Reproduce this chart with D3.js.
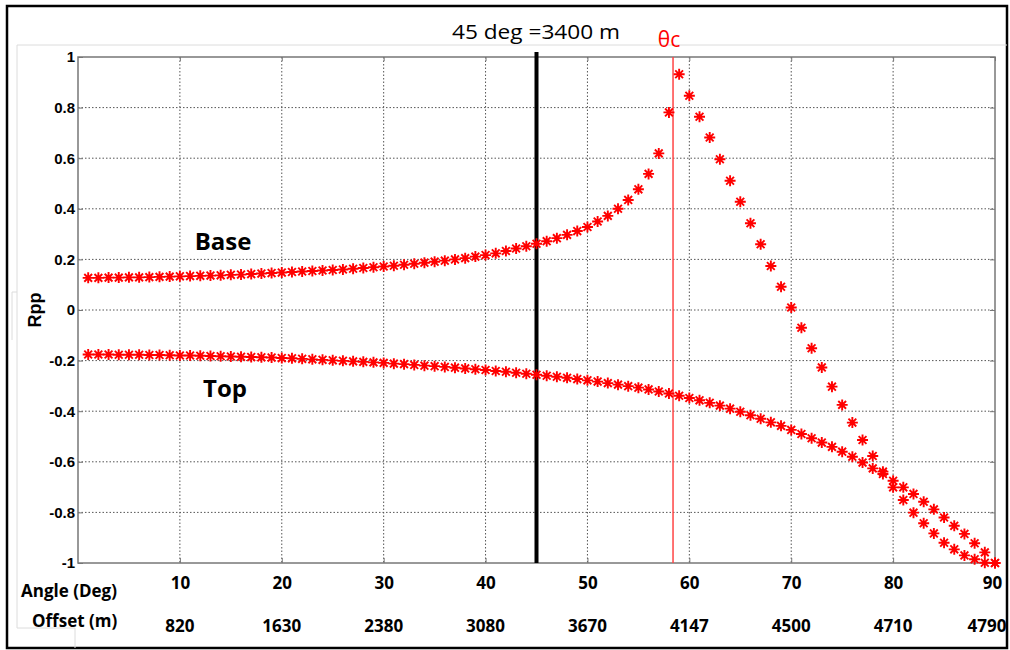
<!DOCTYPE html>
<html>
<head>
<meta charset="utf-8">
<script src="https://cdn.jsdelivr.net/npm/d3@7"></script>
<style>
  body { margin: 0; background: #fff; }
  svg { display: block; }
</style>
</head>
<body>
<svg id="chart" width="1010" height="650"></svg>
<script>
// Incidence angles (deg) for every computed sample
const angles = d3.range(1, 91);

// Rpp, one value per degree (1..90)
const baseRpp = [
  0.127, 0.127, 0.128, 0.128, 0.129, 0.129, 0.130, 0.131, 0.132, 0.133,
  0.134, 0.135, 0.136, 0.137, 0.139, 0.140, 0.142, 0.144, 0.146, 0.148,
  0.150, 0.152, 0.154, 0.156, 0.158, 0.160, 0.163, 0.166, 0.169, 0.172,
  0.175, 0.179, 0.183, 0.187, 0.191, 0.195, 0.200, 0.205, 0.211, 0.217,
  0.224, 0.233, 0.243, 0.252, 0.262, 0.272, 0.284, 0.297, 0.312, 0.328,
  0.350, 0.372, 0.400, 0.435, 0.477, 0.538, 0.619, 0.781, 0.932, 0.847,
  0.764, 0.682, 0.596, 0.511, 0.428, 0.343, 0.260, 0.174, 0.092, 0.010,
  -0.070, -0.151, -0.227, -0.303, -0.375, -0.445, -0.514, -0.577, -0.639, -0.701,
  -0.751, -0.801, -0.843, -0.883, -0.920, -0.946, -0.970, -0.985, -0.999, -1.000
];

const topRpp = [
  -0.176, -0.176, -0.176, -0.177, -0.177, -0.177, -0.178, -0.178, -0.179, -0.180,
  -0.180, -0.181, -0.182, -0.183, -0.184, -0.185, -0.186, -0.187, -0.188, -0.190,
  -0.191, -0.193, -0.195, -0.197, -0.199, -0.201, -0.203, -0.205, -0.207, -0.209,
  -0.212, -0.214, -0.217, -0.220, -0.222, -0.225, -0.228, -0.231, -0.234, -0.237,
  -0.241, -0.244, -0.248, -0.252, -0.256, -0.260, -0.264, -0.268, -0.273, -0.278,
  -0.283, -0.289, -0.295, -0.301, -0.307, -0.314, -0.322, -0.330, -0.339, -0.348,
  -0.357, -0.367, -0.378, -0.390, -0.402, -0.416, -0.430, -0.444, -0.458, -0.474,
  -0.490, -0.507, -0.524, -0.541, -0.560, -0.580, -0.603, -0.626, -0.648, -0.675,
  -0.701, -0.727, -0.758, -0.788, -0.820, -0.853, -0.885, -0.922, -0.958, -1.000
];

// Axis ticks and the offset that goes with each angle
const angleTicks = [10, 20, 30, 40, 50, 60, 70, 80, 90];
const offsetLabels = ["820", "1630", "2380", "3080", "3670", "4147", "4500", "4710", "4790"];
const rppTicks = [-1, -0.8, -0.6, -0.4, -0.2, 0, 0.2, 0.4, 0.6, 0.8, 1];

// Marked angles: 45 deg offset line and critical angle
const markAngle = 45;
const criticalAngle = 58.4;

const svg = d3.select("#chart");

// Plot box in page pixels
const plotLeft = 78, plotRight = 995, plotTop = 57, plotBottom = 563;

const x = d3.scaleLinear().domain([0, 90]).range([plotLeft, plotRight]);
const y = d3.scaleLinear().domain([-1, 1]).range([plotBottom, plotTop]);

const labelFont = "'Open Sans', sans-serif";

// outer black frame and the light grey figure outline
svg.append("rect")
    .attr("x", 7).attr("y", 6).attr("width", 1000).attr("height", 642)
    .style("fill", "white").style("stroke", "black").style("stroke-width", 2.5);

svg.append("path")
    .attr("d", "M1007,45H17V628H75V648M12,340V292H17")
    .style("fill", "none").style("stroke", "#dcdcdc").style("stroke-width", 1);

// dotted grid
const grid = svg.append("g");
grid.selectAll("line.vgrid")
    .data(angleTicks.filter(d => d < 90))
    .enter().append("line")
    .attr("x1", d => x(d)).attr("x2", d => x(d))
    .attr("y1", plotTop).attr("y2", plotBottom)
    .style("stroke", "#555").style("stroke-width", 1).style("stroke-dasharray", "1.5,2");
grid.selectAll("line.hgrid")
    .data(rppTicks.filter(d => d > -1 && d < 1))
    .enter().append("line")
    .attr("x1", plotLeft).attr("x2", plotRight)
    .attr("y1", d => y(d)).attr("y2", d => y(d))
    .style("stroke", "#555").style("stroke-width", 1).style("stroke-dasharray", "1.5,2");

// axes: ticks point inward, like matlab
const yFormat = d => d === 0 ? "0" : String(+d.toFixed(1));

const yAxis = svg.append("g")
    .attr("transform", `translate(${plotLeft},0)`)
    .call(d3.axisLeft(y).tickValues(rppTicks).tickSize(-5).tickPadding(3).tickFormat(yFormat));
yAxis.selectAll("text")
    .style("font-family", "'Liberation Sans', Arial, sans-serif")
    .style("font-weight", "bold").style("font-size", "15px").style("fill", "black");

svg.append("g")
    .attr("transform", `translate(${plotRight},0)`)
    .call(d3.axisRight(y).tickValues(rppTicks).tickSize(-5).tickFormat(""));

const xAxis = svg.append("g")
    .attr("transform", `translate(0,${plotBottom})`)
    .call(d3.axisBottom(x).tickValues(angleTicks).tickSize(-5).tickPadding(14).tickFormat(d3.format("d")));
xAxis.selectAll("text")
    .attr("dx", d => d === 90 ? -3 : 0)
    .style("font-family", labelFont)
    .style("font-weight", "bold").style("font-size", "17px").style("fill", "black");

svg.append("g")
    .attr("transform", `translate(0,${plotTop})`)
    .call(d3.axisTop(x).tickValues(angleTicks).tickSize(-4).tickFormat(""));

svg.selectAll(".domain").remove();
svg.selectAll(".tick line").style("stroke", "#777");

svg.append("rect")
    .attr("x", plotLeft).attr("y", plotTop)
    .attr("width", plotRight - plotLeft).attr("height", plotBottom - plotTop)
    .style("fill", "none").style("stroke", "#777").style("stroke-width", 1.5);

// offsets row under the angle ticks (last one pulled in so it stays inside the frame)
svg.append("g").selectAll("text")
    .data(angleTicks)
    .enter().append("text")
    .attr("x", d => d === 90 ? x(d) - 8 : x(d)).attr("y", 632)
    .attr("text-anchor", "middle")
    .style("font-family", labelFont)
    .style("font-weight", "bold").style("font-size", "17px")
    .text((d, i) => offsetLabels[i]);

svg.append("text").attr("x", 21).attr("y", 597)
    .style("font-family", labelFont).style("font-weight", "bold").style("font-size", "17px")
    .text("Angle (Deg)");
svg.append("text").attr("x", 32).attr("y", 627)
    .style("font-family", labelFont).style("font-weight", "bold").style("font-size", "17px")
    .text("Offset (m)");

svg.append("text")
    .attr("transform", `translate(41,${y(0)}) rotate(-90)`)
    .attr("text-anchor", "middle")
    .style("font-family", "'Liberation Sans', Arial, sans-serif").style("font-weight", "bold").style("font-size", "18px")
    .text("Rpp");

// vertical marker lines
svg.append("line")
    .attr("x1", x(markAngle)).attr("x2", x(markAngle))
    .attr("y1", 52).attr("y2", plotBottom)
    .style("stroke", "black").style("stroke-width", 4);

svg.append("line")
    .attr("x1", x(criticalAngle)).attr("x2", x(criticalAngle))
    .attr("y1", plotTop).attr("y2", plotBottom)
    .style("stroke", "#f44").style("stroke-width", 1.5);

// asterisk markers
const star = "M-5.5,0H5.5M0,-5.5V5.5M-3.9,-3.9L3.9,3.9M-3.9,3.9L3.9,-3.9";

function drawStars(values, cls) {
    svg.append("g").selectAll("path." + cls)
        .data(values)
        .enter().append("path")
        .attr("class", cls)
        .attr("d", star)
        .attr("transform", (d, i) => `translate(${x(angles[i])},${y(d)})`)
        .style("fill", "none").style("stroke", "red").style("stroke-width", 1.9);
}
drawStars(baseRpp, "base");
drawStars(topRpp, "top");

// annotations
svg.append("text").attr("x", 536).attr("y", 39).attr("text-anchor", "middle")
    .attr("textLength", 168).attr("lengthAdjust", "spacingAndGlyphs")
    .style("font-family", labelFont).style("font-size", "20px")
    .text("45 deg =3400 m");

svg.append("text").attr("x", 669).attr("y", 47).attr("text-anchor", "middle")
    .style("font-family", labelFont).style("font-size", "21px").style("fill", "red")
    .text("θc");

svg.append("text").attr("x", 223).attr("y", 250).attr("text-anchor", "middle")
    .style("font-family", labelFont).style("font-weight", "bold").style("font-size", "24px")
    .text("Base");

svg.append("text").attr("x", 225).attr("y", 397).attr("text-anchor", "middle")
    .style("font-family", labelFont).style("font-weight", "bold").style("font-size", "24px")
    .text("Top");
</script>
</body>
</html>
